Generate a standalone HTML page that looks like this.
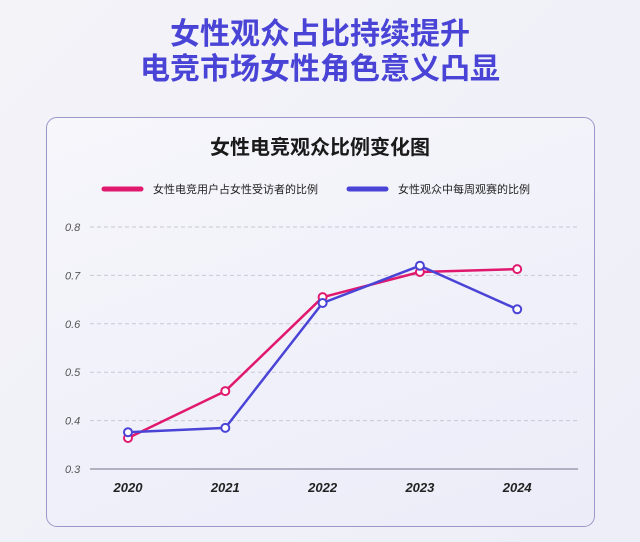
<!DOCTYPE html>
<html><head><meta charset="utf-8"><style>
body{margin:0;width:640px;height:542px;overflow:hidden;background:linear-gradient(135deg,#f3f3f8,#eeeef8);font-family:"Liberation Sans","Noto Sans CJK SC",sans-serif;}
.h{position:absolute;left:0;width:640px;text-align:center;color:#4a44d6;font-weight:bold;font-size:30px;line-height:34px;}
#card{position:absolute;left:46px;top:117px;width:547px;height:408px;border:1.5px solid #9a98c8;border-radius:11px;background:linear-gradient(160deg,#f6f6fb,#ececf9);}
</style></head><body>
<div class="h" style="top:18px">女性观众占比持续提升</div>
<div class="h" style="top:53px">电竞市场女性角色意义凸显</div>
<div id="card"></div>
<svg id="chart" width="640" height="542" style="position:absolute;left:0;top:0">
<text x="320" y="154" text-anchor="middle" font-size="20" font-weight="bold" fill="#1a1a1a">女性电竞观众比例变化图</text>
<g>
<line x1="104" y1="189" x2="141" y2="189" stroke="#e0196e" stroke-width="5" stroke-linecap="round"/>
<text x="153" y="193" font-size="11" fill="#222">女性电竞用户占女性受访者的比例</text>
<line x1="349" y1="189" x2="386" y2="189" stroke="#4a44d6" stroke-width="5" stroke-linecap="round"/>
<text x="398" y="193" font-size="11" fill="#222">女性观众中每周观赛的比例</text>
</g>
<g id="plot"></g>
</svg>
<script>
const categories=["2020","2021","2022","2023","2024"];
const femaleUsers=[0.364,0.461,0.655,0.707,0.713];
const weeklyViewers=[0.376,0.385,0.643,0.720,0.630];
const yTicks=[0.3,0.4,0.5,0.6,0.7,0.8];
const yTickLabels=["0.3","0.4","0.5","0.6","0.7","0.8"];
const NS="http://www.w3.org/2000/svg";
const g=document.getElementById('plot');
function x(i){return 128+i*97.3;}
function y(v){return 469-(v-0.3)*484;}
function mk(t,a){const e=document.createElementNS(NS,t);for(const k in a)e.setAttribute(k,a[k]);g.appendChild(e);return e;}
yTicks.forEach((v,i)=>{
  const l=mk('line',{x1:90,x2:578,y1:y(v),y2:y(v),stroke:i==0?'#9c9cb0':'#c8c8d8','stroke-width':i==0?1.5:1,'stroke-dasharray':i==0?'':'4 3'});
  
  
  const t=mk('text',{x:65,y:y(v)+4,'font-size':11,'font-style':'italic',fill:'#555'});
  t.textContent=yTickLabels[i];
  
  
});
categories.forEach((c,i)=>{
  const t=mk('text',{x:x(i),y:492,'text-anchor':'middle','font-size':13,'font-weight':'bold','font-style':'italic',fill:'#222'});
  t.textContent=c;
  
  
});
function series(vals,color,name){
  const p=mk('polyline',{points:vals.map((v,i)=>x(i)+','+y(v)).join(' '),fill:'none',stroke:color,'stroke-width':2.5,'stroke-linejoin':'round'});
  
  
  vals.forEach((v,i)=>{
    const c=mk('circle',{cx:x(i),cy:y(v),r:4,fill:'#fff',stroke:color,'stroke-width':2});
    
    
  });
}
series(femaleUsers,'#e0196e','female-users');
series(weeklyViewers,'#4a44d6','weekly-viewers');
</script>
</body></html>
